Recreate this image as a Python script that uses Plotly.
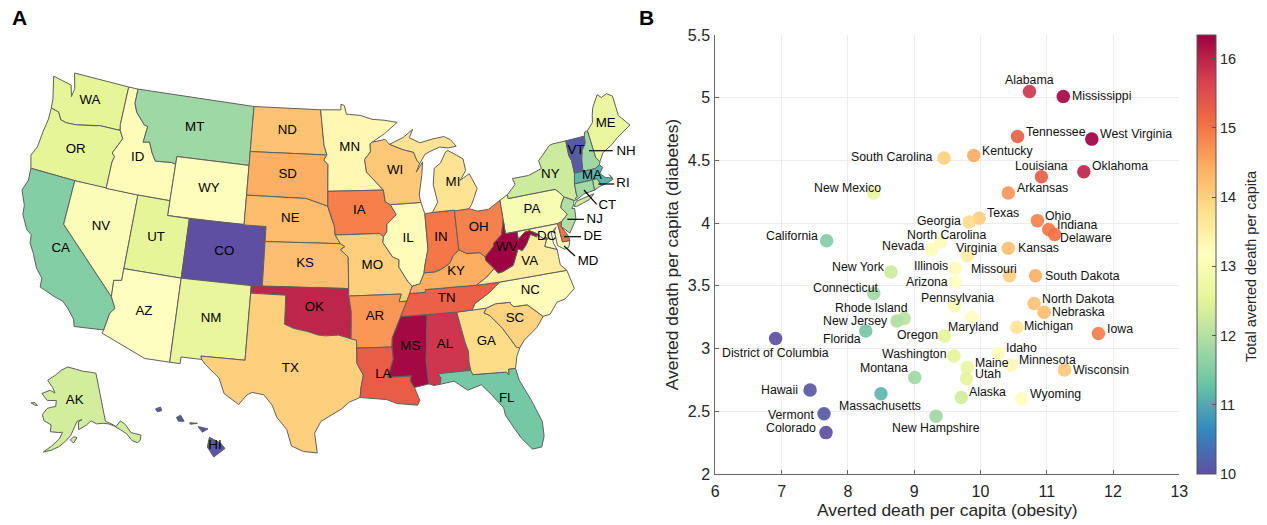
import math
import plotly.graph_objects as go
from plotly.colors import sample_colorscale

# ---------- scatter data ----------
NAMES = ["Mississippi","Alabama","Tennessee","West Virginia","Kentucky","South Carolina","Louisiana","Oklahoma","Arkansas","New Mexico",
 "Texas","Georgia","Ohio","Indiana","Delaware","California","North Carolina","Nevada","Virginia","Kansas",
 "Illinois","New York","Arizona","Missouri","South Dakota","Connecticut","Pennsylvania","North Dakota","Nebraska","Rhode Island",
 "New Jersey","Maryland","Michigan","Florida","Oregon","Iowa","District of Columbia","Idaho","Washington","Minnesota",
 "Maine","Wisconsin","Utah","Montana","Massachusetts","Hawaii","Alaska","Wyoming","Vermont","New Hampshire","Colorado"]
ABBR = ["MS","AL","TN","WV","KY","SC","LA","OK","AR","NM","TX","GA","OH","IN","DE","CA","NC","NV","VA","KS",
 "IL","NY","AZ","MO","SD","CT","PA","ND","NE","RI","NJ","MD","MI","FL","OR","IA","DC","ID","WA","MN",
 "ME","WI","UT","MT","MA","HI","AK","WY","VT","NH","CO"]
OBESITY = [11.25,10.74,10.56,11.68,9.90,9.45,10.92,11.56,10.42,8.39,9.98,9.83,10.86,11.03,11.12,7.68,9.40,9.26,9.80,10.42,
 9.62,8.65,9.62,10.44,10.83,8.39,9.61,10.81,10.96,8.85,8.74,9.87,10.55,8.27,9.46,11.78,6.91,10.27,9.60,10.46,
 9.80,11.27,9.79,9.01,8.50,7.43,9.71,10.62,7.64,9.33,7.67]
DIABETES = [5.01,5.05,4.69,4.67,4.54,4.52,4.37,4.41,4.24,4.24,4.04,4.01,4.02,3.95,3.91,3.86,3.85,3.79,3.74,3.80,
 3.64,3.61,3.53,3.58,3.58,3.44,3.34,3.36,3.29,3.24,3.22,3.25,3.17,3.14,3.10,3.12,3.08,2.96,2.94,2.87,
 2.85,2.83,2.76,2.77,2.64,2.67,2.61,2.60,2.48,2.46,2.33]
TOTAL = [16.26,15.79,15.25,16.33,14.44,13.97,15.29,15.97,14.66,12.63,14.02,13.84,14.88,14.98,15.03,11.54,13.25,13.05,13.54,14.22,
 13.26,12.26,13.15,14.02,14.41,11.83,12.95,14.17,14.25,12.09,11.96,13.12,13.72,11.41,12.56,14.90,10.00,13.23,12.54,13.33,
 12.65,14.10,12.55,11.78,11.14,10.10,12.32,13.22,10.12,11.79,10.00]

SPECTRAL_R = ['rgb(94,79,162)','rgb(50,136,189)','rgb(102,194,165)','rgb(171,221,164)','rgb(230,245,152)','rgb(255,255,191)',
              'rgb(254,224,139)','rgb(253,174,97)','rgb(244,109,67)','rgb(213,62,79)','rgb(158,1,66)']
CMIN, CMAX = 10, 16.34

# label placement relative to each dot: anchor, dx px, dy px (down positive)
LABEL_STYLE = {"Mississippi":("left",8,0),"Alabama":("center",0,-11),"Tennessee":("left",7.5,-4.7),"West Virginia":("left",7.5,-4.7),
 "Kentucky":("left",7,-4.5),"South Carolina":("right",-10,-1),"Louisiana":("center",0,-10.6),"Oklahoma":("left",7.3,-5.3),
 "Arkansas":("left",7.3,-5),"New Mexico":("right",8,-4.6),"Texas":("left",6.7,-5),"Georgia":("right",-7,-1),"Ohio":("left",7,-4.7),
 "Indiana":("left",7.6,-4.3),"Delaware":("left",4.7,3.7),"California":("right",-7.4,-5),"North Carolina":("left",-34.7,-6.7),
 "Nevada":("right",-5.7,-3.3),"Virginia":("right",31,-7.7),"Kansas":("left",8.4,0),"Illinois":("right",-6.6,-2.3),
 "New York":("right",-5,-5),"Arizona":("right",-6.3,0.4),"Missouri":("right",8.3,-7),"South Dakota":("left",9,0),
 "Connecticut":("right",6.3,-5.3),"Pennsylvania":("left",-34.7,-8.4),"North Dakota":("left",7,-4.7),"Nebraska":("left",6.7,-0.6),
 "Rhode Island":("right",5,-10.3),"New Jersey":("right",-8.3,-0.3),"Maryland":("right",28,9.3),"Michigan":("left",6.3,-1),
 "Florida":("right",-4,8.3),"Oregon":("right",-5.7,-1),"Iowa":("left",7.4,-4.7),"District of Columbia":("center",0,14.7),
 "Idaho":("left",7,-5.7),"Washington":("right",-6.4,-2),"Minnesota":("left",6.6,-5.3),"Maine":("left",6.7,-4.7),
 "Wisconsin":("left",7,0),"Utah":("left",7.6,-4.7),"Montana":("right",-6.3,-9),"Massachusetts":("right",41,12.7),
 "Hawaii":("right",-10.7,0),"Alaska":("left",6.3,-5),"Wyoming":("left",7,-4.6),"Vermont":("right",-9.3,1.3),
 "New Hampshire":("left",-45.3,11.3),"Colorado":("right",-9,-4.7)}

# ---------- shared state borders (lon, lat) ----------
CA_COAST = [(-124.2,42.0),(-124.1,41.2),(-124.4,40.44),(-123.8,39.5),(-123.7,38.9),(-123.0,38.0),(-122.5,37.75),(-122.4,37.2),(-121.9,36.6),(-121.3,35.7),(-120.65,35.15),(-120.6,34.55),(-119.2,34.15),(-118.5,34.0),(-118.0,33.65),(-117.3,33.0),(-117.12,32.53)]
OR_COAST = [(-124.0,46.27),(-123.95,45.5),(-124.1,44.6),(-124.2,43.5),(-124.55,42.84),(-124.2,42.0)]
COLUMBIA = [(-124.0,46.27),(-123.2,46.15),(-122.8,45.7),(-122.2,45.6),(-121.2,45.65),(-119.3,45.93),(-118.98,46.0),(-116.92,46.0)]
SNAKE = [(-116.92,46.0),(-116.5,45.5),(-117.2,44.4),(-116.9,44.2),(-117.03,43.8),(-117.03,42.0)]
ID_MT = [(-116.05,49.0),(-116.05,48.0),(-115.7,47.45),(-114.7,46.7),(-114.35,46.65),(-114.5,45.55),(-113.9,45.65),(-113.45,44.95),(-113.0,44.45),(-111.5,44.55),(-111.05,44.48)]
CO_RIVER = [(-114.04,36.2),(-114.7,36.1),(-114.63,35.0),(-114.15,34.27),(-114.5,33.9),(-114.72,32.72)]
TX_MEX = [(-106.53,31.78),(-106.2,31.47),(-105.0,30.65),(-104.5,29.65),(-103.3,29.0),(-102.7,29.7),(-102.3,29.88),(-101.4,29.77),(-100.7,29.1),(-100.3,28.3),(-99.5,27.5),(-99.1,26.4),(-98.2,26.05),(-97.15,25.96)]
TX_COAST = [(-97.15,25.96),(-97.37,27.3),(-96.9,28.1),(-95.3,28.95),(-94.7,29.4),(-93.85,29.7)]
TX_LA = [(-93.85,29.7),(-93.75,30.4),(-93.55,31.2),(-94.04,31.99),(-94.04,33.02)]
RED_RIVER = [(-94.48,33.64),(-95.5,33.9),(-96.6,33.85),(-97.2,33.9),(-98.1,34.13),(-99.2,34.3),(-100.0,34.56)]
LA_COAST = [(-93.85,29.7),(-92.6,29.6),(-91.8,29.5),(-91.0,29.2),(-90.2,29.1),(-89.4,29.0),(-89.2,29.3),(-89.55,30.2)]
FL_COAST = [(-87.52,30.28),(-86.4,30.4),(-85.4,29.7),(-84.3,29.95),(-83.6,29.2),(-82.8,28.2),(-82.75,27.7),(-82.2,26.7),(-81.8,26.0),(-81.1,25.15),(-80.4,25.2),(-80.1,25.9),(-80.05,26.9),(-80.6,28.4),(-81.3,29.9),(-81.45,30.72)]
GA_FL = [(-81.45,30.72),(-82.0,30.75),(-82.05,30.36),(-82.2,30.57),(-84.86,30.7),(-85.0,31.0)]
GA_AL = [(-85.0,31.0),(-85.05,31.55),(-85.0,32.3),(-85.18,32.87),(-85.6,34.98)]
GA_SC = [(-80.85,32.05),(-81.1,32.1),(-81.4,32.6),(-82.0,33.5),(-82.9,34.48),(-83.35,34.7),(-83.1,35.0)]
SC_NC = [(-83.1,35.0),(-82.3,35.2),(-81.05,35.15),(-81.05,35.05),(-80.8,34.82),(-79.68,34.8),(-78.55,33.85)]
SC_COAST = [(-78.55,33.85),(-79.2,33.2),(-80.4,32.5),(-80.85,32.05)]
NC_COAST = [(-78.55,33.85),(-77.95,33.9),(-77.2,34.6),(-76.5,34.7),(-75.55,35.25),(-75.85,36.55)]
TN_NC = [(-84.32,34.99),(-84.0,35.4),(-82.6,36.03),(-81.68,36.59)]
MISS_UP = [(-90.64,42.5),(-90.15,41.8),(-91.05,41.2),(-91.1,40.7),(-91.42,40.38)]
MISS_MO = [(-91.42,40.38),(-91.5,40.0),(-90.7,39.0),(-90.15,38.8),(-90.2,38.3),(-89.5,37.3),(-89.15,36.98)]
MISS_TN = [(-89.42,36.5),(-89.7,36.0),(-90.3,35.0)]
MISS_AR = [(-90.3,35.0),(-91.1,33.6),(-91.15,33.0)]
MISS_LA = [(-91.15,33.0),(-91.1,32.2),(-91.6,31.0),(-89.73,31.0),(-89.85,30.67),(-89.55,30.2)]
MO_RIVER_NE = [(-96.45,42.5),(-96.1,41.7),(-95.85,41.2),(-95.77,40.58),(-95.3,40.0)]
MO_RIVER_KS = [(-95.3,40.0),(-94.9,39.8),(-95.3,39.6),(-94.62,39.1)]
OHIO_KY_IL = [(-88.05,37.8),(-88.5,37.1),(-89.15,36.98)]
OHIO_IN = [(-84.82,39.1),(-85.4,38.72),(-85.75,38.27),(-86.5,37.95),(-87.1,37.8),(-88.05,37.8)]
OHIO_OH = [(-82.6,38.4),(-83.0,38.72),(-84.2,38.8),(-84.82,39.1)]
OHIO_WV = [(-80.52,40.64),(-80.87,39.7),(-81.7,39.2),(-81.75,39.0),(-82.6,38.4)]
WABASH = [(-88.05,37.8),(-87.95,38.2),(-87.53,39.35),(-87.53,41.72)]
KY_WV = [(-82.6,38.4),(-82.6,38.17),(-81.97,37.54)]
VA_KY = [(-81.97,37.54),(-82.7,37.05),(-83.68,36.6)]
VA_WV = [(-81.97,37.54),(-81.7,37.2),(-81.25,37.25),(-80.3,37.55),(-79.65,38.58),(-79.3,38.42),(-78.87,38.76),(-78.35,39.39),(-77.83,39.14),(-77.72,39.32)]
POTOMAC = [(-77.72,39.32),(-77.5,39.1),(-77.05,38.8),(-77.3,38.4),(-77.0,38.3),(-76.3,38.05)]
MD_WV = [(-77.72,39.32),(-78.35,39.63),(-78.8,39.6),(-79.48,39.2),(-79.48,39.72)]
DELAWARE_R = [(-75.4,39.8),(-74.75,40.2),(-75.2,40.7),(-75.05,41.0),(-74.7,41.36)]
NY_PA = [(-79.76,42.0),(-75.35,42.0),(-75.05,41.75),(-74.7,41.36)]
NY_EAST = [(-73.35,45.0),(-73.4,44.0),(-73.25,43.6),(-73.27,42.75)]
NY_MA_CT = [(-73.27,42.75),(-73.5,42.05),(-73.55,41.3),(-73.48,41.2),(-73.73,41.1),(-73.65,40.98)]
VT_NH = [(-71.5,45.0),(-71.6,44.5),(-72.05,44.1),(-72.3,43.5),(-72.46,42.73)]
NH_ME = [(-71.08,45.3),(-70.98,43.4),(-70.7,43.07)]
MA_NORTH = [(-73.27,42.75),(-72.46,42.73),(-71.3,42.7),(-70.82,42.87)]
MA_SOUTH = [(-73.5,42.05),(-71.8,42.02),(-71.38,42.02)]
RI_MA = [(-71.38,42.02),(-71.12,41.5)]
WI_MI = [(-90.4,46.55),(-89.1,46.13),(-88.1,45.9),(-87.85,45.35),(-87.6,45.1)]
WI_MN = [(-92.1,46.75),(-92.3,46.65),(-92.3,46.1),(-92.9,45.6),(-92.75,44.75),(-91.22,43.5)]
ND_MN = [(-97.23,49.0),(-96.85,46.6),(-96.56,45.94)]
SD_MN = [(-96.56,45.94),(-96.85,45.6),(-96.45,45.3),(-96.45,43.5)]
r = lambda seg: seg[::-1]

WA = [(-124.7,48.38),(-124.1,46.9)] + COLUMBIA + [(-117.03,46.4),(-117.03,49.0),(-122.75,49.0),(-122.3,48.0),(-122.4,47.4),(-122.75,48.15),(-123.2,48.2)]
OR = OR_COAST + [(-120.0,42.0)] + r(SNAKE) + r(COLUMBIA)
CA = r(CA_COAST) + [(-120.0,42.0),(-120.0,39.0),(-114.63,35.0),(-114.15,34.27),(-114.5,33.9),(-114.72,32.72)]
NV = [(-120.0,42.0),(-114.04,42.0),(-114.04,36.2),(-114.7,36.1),(-114.63,35.0),(-120.0,39.0)]
ID = [(-117.03,49.0)] + ID_MT + [(-111.05,42.0),(-114.04,42.0)] + r(SNAKE) + [(-117.03,46.4)]
MT = ID_MT + [(-111.05,45.0),(-104.05,45.0),(-104.05,49.0)]
WY = [(-111.05,45.0),(-104.05,45.0),(-104.05,41.0),(-111.05,41.0)]
UT = [(-114.04,42.0),(-111.05,42.0),(-111.05,41.0),(-109.05,41.0),(-109.05,37.0),(-114.04,37.0)]
CO = [(-109.05,41.0),(-102.05,41.0),(-102.05,37.0),(-109.05,37.0)]
AZ = [(-114.04,37.0),(-109.05,37.0),(-109.05,31.33),(-111.07,31.33),(-114.81,32.49)] + r(CO_RIVER)
NM = [(-109.05,37.0),(-103.0,37.0),(-103.06,32.0),(-106.62,32.0),(-106.53,31.78),(-108.21,31.78),(-108.21,31.33),(-109.05,31.33)]
ND = [(-104.05,49.0)] + ND_MN + [(-104.05,45.94)]
SD = [(-104.05,45.94)] + SD_MN + [(-96.45,42.5),(-97.85,42.85),(-98.5,43.0),(-104.05,43.0)]
NE = [(-104.05,43.0),(-98.5,43.0),(-97.85,42.85)] + MO_RIVER_NE + [(-102.05,40.0),(-102.05,41.0),(-104.05,41.0)]
KS = [(-102.05,40.0)] + MO_RIVER_KS + [(-94.62,37.0),(-102.05,37.0)]
OK = [(-103.0,37.0),(-94.62,37.0),(-94.62,36.5),(-94.43,35.4)] + RED_RIVER + [(-100.0,36.5),(-103.0,36.5)]
TX = [(-103.0,36.5),(-100.0,36.5)] + r(RED_RIVER) + [(-94.04,33.55),(-94.04,33.02)] + r(TX_LA) + r(TX_COAST) + r(TX_MEX) + [(-106.62,32.0),(-103.06,32.0)]
MN = [(-97.23,49.0),(-95.15,49.0),(-95.15,49.38),(-94.8,49.3),(-94.6,48.7),(-93.2,48.6),(-92.0,48.3),(-90.8,48.2),(-89.5,48.0),(-90.8,47.3)] + WI_MN + [(-96.45,43.5)] + r(SD_MN) + r(ND_MN)
IA = [(-96.45,43.5),(-91.22,43.5),(-91.1,42.7)] + MISS_UP + [(-91.73,40.61),(-95.77,40.58),(-95.85,41.2),(-96.1,41.7),(-96.45,42.5)]
MO = [(-95.77,40.58),(-91.73,40.61)] + MISS_MO + MISS_TN[:2] + [(-90.37,36.0),(-90.15,36.5),(-94.62,36.5),(-94.62,39.1)] + r(MO_RIVER_KS)
AR = [(-94.62,36.5),(-90.15,36.5),(-90.37,36.0),(-89.7,36.0),(-90.3,35.0)] + MISS_AR[1:] + [(-94.04,33.02),(-94.04,33.55),(-94.48,33.64),(-94.43,35.4)]
LA = [(-94.04,33.02)] + MISS_LA + r(LA_COAST) + TX_LA[1:]
MS = [(-90.3,35.0),(-88.2,35.0),(-88.1,34.9),(-88.47,31.9),(-88.4,30.37),(-89.55,30.2)] + r(MISS_LA) + [(-91.1,33.6)]
AL = [(-88.2,35.0),(-85.6,34.98)] + r(GA_AL) + [(-87.6,31.0),(-87.4,30.7),(-87.52,30.28),(-88.0,30.24),(-88.4,30.37),(-88.47,31.9),(-88.1,34.9)]
FL = [(-87.6,31.0)] + r(GA_FL) + r(FL_COAST) + [(-87.4,30.7)]
GA = [(-85.6,34.98),(-84.32,34.99)] + r(GA_SC) + [(-81.2,31.5)] + GA_FL + GA_AL[1:-1]
SC = SC_NC + SC_COAST + GA_SC[1:-1]
NC = TN_NC + [(-75.85,36.55)] + r(NC_COAST) + r(SC_NC)
TN = [(-90.3,35.0),(-88.2,35.0),(-85.6,34.98)] + TN_NC + [(-83.68,36.6),(-88.07,36.68),(-88.07,36.5)] + MISS_TN
KY = [(-89.42,36.5),(-88.07,36.5),(-88.07,36.68),(-83.68,36.6)] + r(VA_KY) + r(KY_WV) + OHIO_OH + OHIO_IN + OHIO_KY_IL
IL = [(-87.8,42.5)] + MISS_UP + MISS_MO + r(OHIO_KY_IL) + WABASH
IN = [(-87.53,41.72),(-87.2,41.76),(-86.82,41.76),(-84.8,41.76)] + OHIO_IN + WABASH[1:-1]
OH = [(-84.8,41.7),(-83.45,41.73),(-82.7,41.5),(-81.7,41.5),(-80.52,41.98)] + OHIO_WV + OHIO_OH
WI = [(-91.22,43.5),(-91.1,42.7),(-90.64,42.5),(-87.8,42.5),(-87.9,43.0),(-87.5,44.3),(-87.3,45.2),(-88.0,44.55),(-87.6,45.1)] + r(WI_MI) + [(-90.8,46.9)] + WI_MN
MI_U = WI_MI + [(-87.0,45.7),(-86.5,45.85),(-85.5,46.08),(-84.7,45.95),(-83.9,46.0),(-84.4,46.5),(-85.0,46.75),(-86.1,46.67),(-87.4,46.5),(-88.4,46.9),(-88.0,47.45),(-89.0,46.95)]
MI_L = [(-86.82,41.76),(-86.25,42.4),(-86.5,43.6),(-86.25,44.7),(-85.6,45.0),(-85.0,45.7),(-84.75,45.78),(-83.4,45.1),(-83.3,44.3),(-83.9,43.7),(-83.0,44.05),(-82.45,43.0),(-82.9,42.35),(-83.15,42.0),(-83.45,41.73),(-84.8,41.7),(-84.8,41.76)]
PA = [(-80.52,41.98),(-79.76,42.27)] + NY_PA + r(DELAWARE_R) + [(-75.79,39.72),(-80.52,39.72)]
NY = NY_PA + [(-73.9,40.99),(-73.65,40.98)] + r(NY_MA_CT)[1:] + r(NY_EAST)[1:] + [(-74.7,45.0),(-75.0,44.95),(-76.3,44.1),(-76.2,43.55),(-77.5,43.27),(-79.05,43.27),(-78.9,42.85),(-79.76,42.27)]
NY_LI = [(-74.0,40.6),(-73.7,40.9),(-72.0,41.1),(-72.5,40.8),(-73.8,40.55)]
NJ = [(-74.7,41.36),(-73.9,40.99),(-74.02,40.7),(-74.25,40.5),(-74.0,40.45),(-74.1,39.75),(-74.9,38.93),(-75.55,39.5),(-75.4,39.8)] + DELAWARE_R[1:-1]
DE = [(-75.79,39.72),(-75.4,39.8),(-75.55,39.5),(-75.1,38.8),(-75.05,38.45),(-75.7,38.46)]
MD = [(-79.48,39.72),(-75.79,39.72),(-75.7,38.46),(-75.05,38.45),(-75.25,38.03),(-75.65,37.95),(-76.2,38.3),(-76.2,39.3),(-76.0,39.5),(-76.5,39.2),(-76.5,38.5)] + r(POTOMAC) + MD_WV[1:-1]
DC = [(-77.12,38.93),(-77.04,39.0),(-76.91,38.89),(-77.04,38.79)]
VA = [(-83.68,36.6),(-81.68,36.59),(-75.85,36.55),(-76.3,37.0),(-76.3,37.55)] + r(POTOMAC) + r(VA_WV)[1:] + VA_KY[1:-1]
WV = VA_WV + MD_WV[1:] + [(-80.52,39.72)] + OHIO_WV + KY_WV[1:-1]
VT = [(-73.35,45.0),(-71.5,45.0)] + VT_NH[1:] + r(NY_EAST)[:-1]
NH = [(-71.5,45.0),(-71.4,45.25),(-71.08,45.3)] + NH_ME[1:] + [(-70.82,42.87),(-71.3,42.7)] + r(VT_NH)[:-1]
ME = [(-71.08,45.3),(-70.4,45.75),(-70.25,46.2),(-70.0,46.7),(-69.23,47.46),(-68.9,47.2),(-68.3,47.35),(-67.8,47.07),(-67.8,45.7),(-67.45,45.3),(-67.0,44.85),(-68.5,44.3),(-69.2,43.95),(-70.2,43.6),(-70.7,43.07),(-70.98,43.4)]
MA = MA_NORTH + [(-70.6,42.65),(-71.0,42.3),(-70.6,41.95),(-70.0,41.8),(-70.2,42.07),(-69.95,41.7),(-70.6,41.55),(-71.12,41.5)] + r(RI_MA) + r(MA_SOUTH)
RI = RI_MA + [(-71.4,41.45),(-71.86,41.32),(-71.8,42.02)]
CT = MA_SOUTH[:2] + [(-71.86,41.32),(-72.9,41.25),(-73.65,40.98),(-73.73,41.1),(-73.48,41.2),(-73.55,41.3)]
AK = [(-141,69.65),(-141,60.3),(-139.5,59.8),(-137.5,58.9),(-135.4,59.7),(-134,58.8),(-133,57),(-131.8,56.6),(-130,55.9),(-130.9,55),(-132,54.8),(-133.5,55.5),(-134.5,57),(-136.5,58.2),(-138,59),(-140,59.7),(-142,60),(-144.5,60.1),(-146.5,60.8),(-148.5,60.1),(-151.5,59.3),(-151.5,60.8),(-150,61.2),(-152,60.9),(-153.5,59.5),(-154.5,58.2),(-156.5,57),(-158.5,56),(-161,55.2),(-163.5,54.7),(-161,56),(-158.5,57.5),(-157.5,58.8),(-159,58.7),(-162,58.7),(-162,60),(-165,60.6),(-166,61.7),(-164.5,63),(-161,63.6),(-161,64.7),(-165,64.5),(-168,65.6),(-164.5,66.5),(-162,66.1),(-163.5,67.1),(-166.5,68.3),(-163,69.5),(-160,70.6),(-156.5,71.3),(-152,70.9),(-148,70.4),(-144,70.05)]
AK_KODIAK = [(-154.6,57.4),(-153.3,58),(-152.2,57.8),(-153.5,56.8)]
AK_ST_LAWRENCE = [(-171.7,63.4),(-170,63.6),(-168.8,63.2),(-170,63.15)]
HI_BIG = [(-155.9,20.25),(-155.1,19.85),(-154.8,19.5),(-155.6,18.95),(-156.05,19.6)]
HI_MAUI = [(-156.7,20.95),(-156.0,20.8),(-156.4,20.58)]
HI_MOLOKAI = [(-157.3,21.2),(-156.75,21.17),(-157.25,21.1)]
HI_OAHU = [(-158.25,21.55),(-157.95,21.7),(-157.7,21.3),(-158.1,21.3)]
HI_KAUAI = [(-159.75,22.1),(-159.4,22.23),(-159.3,22.0),(-159.6,21.9)]

STATE_RINGS = {"WA":[WA],"OR":[OR],"CA":[CA],"NV":[NV],"ID":[ID],"MT":[MT],"WY":[WY],"UT":[UT],"CO":[CO],"AZ":[AZ],"NM":[NM],
 "ND":[ND],"SD":[SD],"NE":[NE],"KS":[KS],"OK":[OK],"TX":[TX],"MN":[MN],"IA":[IA],"MO":[MO],"AR":[AR],"LA":[LA],"MS":[MS],"AL":[AL],
 "FL":[FL],"GA":[GA],"SC":[SC],"NC":[NC],"TN":[TN],"KY":[KY],"IL":[IL],"IN":[IN],"OH":[OH],"WI":[WI],"MI":[MI_U,MI_L],"PA":[PA],
 "NY":[NY,NY_LI],"NJ":[NJ],"VA":[VA],"MD":[MD],"DE":[DE],"DC":[DC],"WV":[WV],"VT":[VT],"NH":[NH],"ME":[ME],"MA":[MA],"RI":[RI],"CT":[CT],
 "AK":[AK,AK_KODIAK,AK_ST_LAWRENCE],"HI":[HI_BIG,HI_MAUI,HI_MOLOKAI,HI_OAHU,HI_KAUAI]}

# map text placement on the map panel's axes
MAP_TEXT = ["WA","OR","CA","NV","ID","MT","WY","UT","CO","ND","SD","NE","KS","MN","WI","MI","IA","IL","IN","OH","MO","KY","WV","VA","PA","NY","ME","VT","MA","DC","NH","RI","CT","NJ","DE","MD","AZ","NM","OK","TX","AK","HI","NC","TN","AR","SC","MS","AL","GA","LA","FL"]
MAP_TEXT_X = [90,75.7,60.7,101,137.7,194.7,209,156,224.3,287.3,287.7,290.3,305,349.7,395,453,359.3,408,441,478.7,372.3,456,506.7,529.7,532,550.3,605.7,576,592,546.7,626,623,607.3,594.7,592.7,588,144,211,314.3,290.3,74.7,215,530.3,446.7,375,515,410.3,445,486.3,383.3,506.7]
MAP_TEXT_Y = [100.7,150,248.3,226.7,157.3,127.3,189,237.3,251.7,130.3,174.7,218.3,264,147.7,170.7,182.7,210.3,238.3,237.7,227.3,265.7,271.7,247.7,261.7,209.7,175,123.7,151,175.3,237,151.7,183.7,205.7,219.3,237,261.7,311.7,319,307.7,368.3,400.7,445.7,291,298.3,317,318.3,347,345,341.7,374.7,399]
LEADER_X0 = [589,598.3,584,567.3,564.3,564]
LEADER_Y0 = [150.7,184,190,219.3,236.7,246]
LEADER_X1 = [612.7,614.3,596.7,584,581,575]
LEADER_Y1 = [150.7,184,204.3,219.3,236.7,256]

# ---------- conic equal-area projection of the outlines ----------
def albers(lon, lat, p1, p2, lon0, lat0):
    a, b = math.radians(p1), math.radians(p2)
    n = (math.sin(a) + math.sin(b)) / 2
    c = math.cos(a) ** 2 + 2 * n * math.sin(a)
    rho = lambda ph: math.sqrt(c - 2 * n * math.sin(math.radians(ph))) / n
    th = n * math.radians(lon - lon0)
    return rho(lat) * math.sin(th), rho(lat0) - rho(lat) * math.cos(th)

def fitter(rings, params, box):
    pts = [albers(lon, lat, *params) for ring in rings for lon, lat in ring]
    xs, ys = [p[0] for p in pts], [p[1] for p in pts]
    x0, x1, y0, y1 = min(xs), max(xs), min(ys), max(ys)
    def f(lon, lat):
        px, py = albers(lon, lat, *params)
        return (box[0] + (px - x0) / (x1 - x0) * (box[1] - box[0]),
                box[3] - (py - y0) / (y1 - y0) * (box[3] - box[2]))
    return f

LOWER48 = [ring for s, rings in STATE_RINGS.items() if s not in ("AK", "HI") for ring in rings]
FIT_48 = fitter(LOWER48, (29.5, 45.5, -96, 37.5), (22, 630, 73, 453))
FIT_AK = fitter(STATE_RINGS["AK"], (55, 65, -154, 58.5), (31, 141, 367, 452))
FIT_HI = fitter(STATE_RINGS["HI"], (8, 18, -157, 20), (155.5, 225, 407, 457))

def state_color(v):
    return sample_colorscale(SPECTRAL_R, [(v - CMIN) / (CMAX - CMIN)], colortype="rgb")[0]

TOTAL_BY_STATE = dict(zip(ABBR, TOTAL))
TXT = "#262626"
FONT = "Liberation Sans"
fig = go.Figure()
for st, rings in STATE_RINGS.items():
    fit = {"AK": FIT_AK, "HI": FIT_HI}.get(st, FIT_48)
    for ring in rings:
        pts = [fit(lon, lat) for lon, lat in ring] 
        pts.append(pts[0])
        fig.add_trace(go.Scatter(x=[p[0] for p in pts], y=[p[1] for p in pts], xaxis="x2", yaxis="y2", mode="lines",
                                 fill="toself", fillcolor=state_color(TOTAL_BY_STATE[st]),
                                 line=dict(color="#5f5f5f", width=1), hoverinfo="skip", showlegend=False))
for i in range(len(LEADER_X0)):
    fig.add_trace(go.Scatter(x=[LEADER_X0[i], LEADER_X1[i]], y=[LEADER_Y0[i], LEADER_Y1[i]], xaxis="x2", yaxis="y2", mode="lines",
                             line=dict(color="black", width=1.2), hoverinfo="skip", showlegend=False))
fig.add_trace(go.Scatter(x=MAP_TEXT_X, y=MAP_TEXT_Y, text=MAP_TEXT, xaxis="x2", yaxis="y2", mode="text", textposition="middle center",
                         textfont=dict(family=FONT, size=13.3, color="black"), hoverinfo="skip", showlegend=False))

fig.add_trace(go.Scatter(x=OBESITY, y=DIABETES, mode="markers", showlegend=False,
    marker=dict(size=13.5, color=TOTAL, cmin=CMIN, cmax=CMAX, opacity=0.92,
                colorscale=[[i/10, c] for i, c in enumerate(SPECTRAL_R)],
                colorbar=dict(x=1197/1267, xanchor="left", y=1-474/525, yanchor="bottom", lenmode="pixels", len=439,
                              thicknessmode="pixels", thickness=19, outlinecolor="#555", outlinewidth=1,
                              tickvals=[10,11,12,13,14,15,16], ticks="inside", ticklen=4, tickcolor="#555",
                              tickfont=dict(family=FONT, size=14.5, color=TXT), xpad=0, ypad=0))))
for name, x, y in zip(NAMES, OBESITY, DIABETES):
    a, dx, dy = LABEL_STYLE[name]
    fig.add_annotation(x=x, y=y, text=name, showarrow=False, xanchor=a, yanchor="middle", xshift=dx, yshift=-dy, borderpad=0,
                       font=dict(family=FONT, size=12.3, color="#111"), xref="x", yref="y")

fig.add_annotation(text="Total averted death per capita", xref="paper", yref="paper", x=1251/1267, y=1-266/525,
                   textangle=-90, showarrow=False, xanchor="center", yanchor="middle",
                   font=dict(family=FONT, size=14.5, color=TXT))
fig.add_annotation(text="<b>A</b>", xref="paper", yref="paper", x=10/1267, y=1-17/525, xanchor="left", yanchor="middle",
                   showarrow=False, font=dict(family=FONT, size=21, color="black"))
fig.add_annotation(text="<b>B</b>", xref="paper", yref="paper", x=637/1267, y=1-17/525, xanchor="left", yanchor="middle",
                   showarrow=False, font=dict(family=FONT, size=21, color="black"))

axis = dict(showgrid=True, gridcolor="#ececec", gridwidth=1, zeroline=False, showline=True, linecolor="#666", linewidth=1,
            ticks="inside", ticklen=4, tickcolor="#666", tickfont=dict(family=FONT, size=16, color=TXT))
fig.update_layout(
    width=1267, height=525, autosize=False, margin=dict(l=0, r=0, t=0, b=0, autoexpand=False),
    paper_bgcolor="white", plot_bgcolor="white", showlegend=False,
    xaxis=dict(domain=[715.3/1267, 1179.3/1267], range=[6, 13], dtick=1, ticklabelstandoff=3,
               title=dict(text="Averted death per capita (obesity)", font=dict(family=FONT, size=17.4, color=TXT), standoff=4), **axis),
    yaxis=dict(domain=[1-474/525, 1-35/525], range=[2, 5.5], dtick=0.5, ticklabelstandoff=1,
               title=dict(text="Averted death per capita (diabetes)", font=dict(family=FONT, size=17.4, color=TXT), standoff=4), **axis),
    xaxis2=dict(domain=[0, 650/1267], range=[0, 650], visible=False, anchor="y2"),
    yaxis2=dict(domain=[0, 1], range=[525, 0], visible=False, anchor="x2"))
fig.write_html("out.html", post_script="document.body.style.margin='0';", config=dict(displayModeBar=False))
